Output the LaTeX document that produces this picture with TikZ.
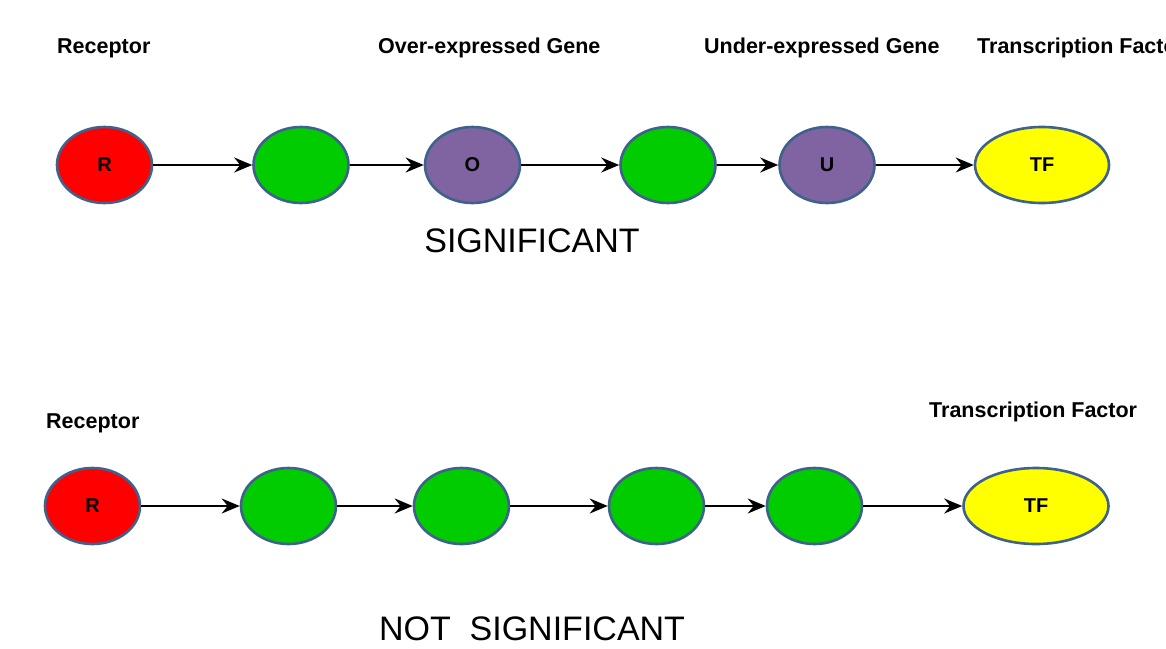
\documentclass[tikz,border=0pt]{standalone}
\usepackage{fontspec}
\setmainfont{Liberation Sans}
\usetikzlibrary{shapes.geometric,arrows.meta}
\definecolor{edgeblue}{HTML}{3F628C}
\definecolor{rred}{HTML}{FF0000}
\definecolor{ggreen}{HTML}{00CC00}
\definecolor{ppurple}{HTML}{8064A2}
\definecolor{yyellow}{HTML}{FFFF00}
\tikzset{
  gene/.style={ellipse, draw=edgeblue, line width=2.6pt, minimum width=95pt, minimum height=76pt, inner sep=0pt,
    font=\fontsize{20}{20}\selectfont\bfseries},
  lbl/.style={anchor=base west, inner sep=0pt, font=\fontsize{21.5}{21.5}\selectfont\bfseries},
  big/.style={anchor=base, inner sep=0pt, font=\fontsize{34}{34}\selectfont},
  arr/.style={-{Stealth[length=18pt,width=15pt,inset=6pt]}, line width=2.2pt, black}
}
\begin{document}
\begin{tikzpicture}[x=1pt,y=-1pt]
\useasboundingbox (0,0) rectangle (1166,648);
\clip (0,0) rectangle (1166,648);
\fill[white] (0,0) rectangle (1166,648);
% top row
\node[gene, fill=rred] (r1) at (104.5,165) {R};
\node[gene, fill=ggreen] (g1) at (301,165) {};
\node[gene, fill=ppurple] (o1) at (472.5,165) {O};
\node[gene, fill=ggreen] (g2) at (668,165) {};
\node[gene, fill=ppurple] (u1) at (827,165) {U};
\node[gene, fill=yyellow, minimum width=134pt] (tf1) at (1042,165) {TF};
\draw[arr] (r1) -- (g1);
\draw[arr] (g1) -- (o1);
\draw[arr] (o1) -- (g2);
\draw[arr] (g2) -- (u1);
\draw[arr] (u1) -- (tf1);
\node[lbl] (lr1) at (57,53) {Receptor};
\node[lbl] (lo1) at (378,53) {Over-expressed Gene};
\node[lbl] (lu1) at (704,53) {Under-expressed Gene};
\node[lbl] (ltf1) at (977,53) {Transcription Factor};
\node[big] (sig) at (532,252) {SIGNIFICANT};
% bottom row
\node[gene, fill=rred] (r2) at (92.5,506) {R};
\node[gene, fill=ggreen] (h1) at (288.5,506) {};
\node[gene, fill=ggreen] (h2) at (461.5,506) {};
\node[gene, fill=ggreen] (h3) at (656.5,506) {};
\node[gene, fill=ggreen] (h4) at (814.5,506) {};
\node[gene, fill=yyellow, minimum width=145pt] (tf2) at (1036,506) {TF};
\draw[arr] (r2) -- (h1);
\draw[arr] (h1) -- (h2);
\draw[arr] (h2) -- (h3);
\draw[arr] (h3) -- (h4);
\draw[arr] (h4) -- (tf2);
\node[lbl] (lr2) at (46,428) {Receptor};
\node[lbl] (ltf2) at (929,417) {Transcription Factor};
\node[big] (nsig) at (532,640) {NOT\ \ SIGNIFICANT};
\end{tikzpicture}
\end{document}
